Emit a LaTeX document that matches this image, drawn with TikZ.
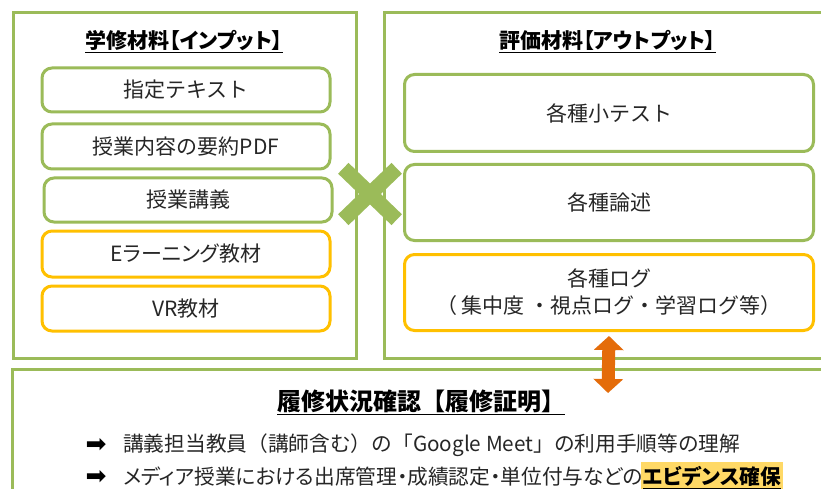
\documentclass[tikz,border=0pt]{standalone}
\usepackage{fontspec}
\setmainfont{Noto Sans CJK JP}
\newfontfamily\jpp[CharacterWidth=AlternateProportional]{Noto Sans CJK JP}
\newfontfamily\dejavu{DejaVu Sans}
\usetikzlibrary{arrows.meta}
\definecolor{grn}{HTML}{9BBB59}
\definecolor{yel}{HTML}{FFC000}
\definecolor{org}{HTML}{E46C0A}
\definecolor{hl}{HTML}{FFD966}
\definecolor{txt}{HTML}{262626}
\tikzset{
  bigbox/.style={draw=grn, line width=3, inner sep=0},
  inbox/.style={draw=grn, line width=3, rounded corners=10, fill=white, inner sep=0,
    align=center, text=txt, font=\fontsize{21}{27}\selectfont},
  yelbox/.style={inbox, draw=yel},
  ttl/.style={inner sep=0, text=black, font=\jpp\fontsize{21}{25}\selectfont\bfseries},
  line/.style={inner sep=0, text=txt, anchor=west},
}
\begin{document}
\begin{tikzpicture}[x=1pt,y=-1pt]
\useasboundingbox (0,0) rectangle (821,489);
\fill[white] (0,0) rectangle (821,489);
\begin{scope}
\clip (0,0) rectangle (821,489);
% big frames
\node[bigbox, minimum width=343, minimum height=345] (L) at (185,185.5) {};
\node[bigbox, minimum width=456, minimum height=345] (R) at (612,185.5) {};
\node[bigbox, minimum width=828, minimum height=151] (B) at (426,444.5) {};
% cross
\draw[grn, line width=15] (343.3,168.3) -- (396.7,219.7);
\draw[grn, line width=15] (343.3,219.7) -- (396.7,168.3);
% titles
\node[ttl] (Lt) at (184,42) {\underline{学修材料【インプット】}};
\node[ttl] (Rt) at (607.5,42) {\underline{評価材料【アウトプット】}};
% input boxes
\node[inbox, minimum width=288, minimum height=44] (a1) at (186,90) {指定テキスト};
\node[inbox, minimum width=288, minimum height=45] (a2) at (186,146.5) {授業内容の要約PDF};
\node[inbox, minimum width=288, minimum height=44] (a3) at (188,200) {授業講義};
\node[yelbox, minimum width=288, minimum height=46, font=\jpp\fontsize{21}{27}\selectfont] (a4) at (186,254) {Eラーニング教材};
\node[yelbox, minimum width=288, minimum height=45] (a5) at (186,308.5) {VR教材};
% output boxes
\node[inbox, minimum width=409, minimum height=77] (b1) at (609,113) {各種小テスト};
\node[inbox, minimum width=409, minimum height=76] (b2) at (609,202.5) {各種論述};
\node[yelbox, minimum width=409, minimum height=76] (b3) at (609,292.5) {各種ログ\\（ 集中度 ・視点ログ・学習ログ等）};
% bottom
\node[inner sep=0, text=black, font=\fontsize{24}{28}\selectfont\bfseries] (Bt) at (421,402) {\underline{履修状況確認【履修証明】}};
\node[inner sep=0, font=\dejavu\fontsize{25}{28}\selectfont] (m1) at (96,445) {➡};
\node[inner sep=0, font=\dejavu\fontsize{25}{28}\selectfont] (m2) at (96,477) {➡};
\node[line, font=\fontsize{20.7}{26}\selectfont] (l1) at (123,445) {講義担当教員（講師含む）の「Google Meet」の利用手順等の理解};
\node[line, font=\jpp\fontsize{20.7}{26}\selectfont] (l2a) at (123,477) {メディア授業における出席管理・成績認定・単位付与などの};
\node[inner sep=0, inner xsep=2, inner ysep=5, fill=hl, anchor=base west, text=black,
  font=\jpp\fontsize{20.7}{26}\selectfont\bfseries] (l2b) at ([xshift=-2]l2a.base east) {\underline{エビデンス確保}};
% arrow
\coordinate (ar1) at ([yshift=-4]b3.south);
\coordinate (ar2) at (608,393);
\draw[org, line width=13, {Triangle[width=29pt,length=14pt]}-{Triangle[width=29pt,length=14pt]}] (ar1) -- (ar2);
\end{scope}
\end{tikzpicture}
\end{document}
